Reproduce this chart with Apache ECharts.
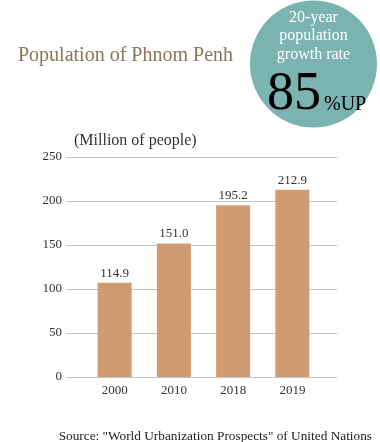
<!DOCTYPE html>
<html><head><meta charset="utf-8">
<script src="https://cdn.jsdelivr.net/npm/echarts@6/dist/echarts.min.js"></script>
<style>html,body{margin:0;padding:0;background:#fff}#c{width:380px;height:442px}</style>
</head><body><div id="c"></div>
<script>
var categories = ['2000', '2010', '2018', '2019'];
var barValues = [107, 151.8, 195.2, 212.9];
var valueLabels = ['114.9', '151.0', '195.2', '212.9'];
var yTicks = { min: 0, max: 250, interval: 50 };

var SERIF = '"Liberation Serif", "Times New Roman", serif';
var chart = echarts.init(document.getElementById('c'), null, { renderer: 'canvas' });
chart.setOption({
  animation: false,
  backgroundColor: '#fff',
  title: [
    { text: 'Population of Phnom Penh', left: 13, top: 41,
      textStyle: { fontFamily: SERIF, fontSize: 20, fontWeight: 'normal', color: '#8c7457' } },
    { text: 'Source: "World Urbanization Prospects" of United Nations', right: 3, top: 425,
      textStyle: { fontFamily: SERIF, fontSize: 13.3, fontWeight: 'normal', color: '#222' } }
  ],
  grid: [
    { left: 66, right: 43, top: 157, bottom: 65 },
    { left: 85, right: 58, top: 157, bottom: 65 }
  ],
  xAxis: [
    { gridIndex: 0, type: 'category', data: categories, show: false },
    { gridIndex: 1, type: 'category', data: categories,
      axisLine: { show: false }, axisTick: { show: false },
      axisLabel: { margin: 7, fontFamily: SERIF, fontSize: 13, color: '#333' } }
  ],
  yAxis: [
    { gridIndex: 0, type: 'value', min: yTicks.min, max: yTicks.max, interval: yTicks.interval,
      axisLine: { show: false }, axisTick: { show: false },
      axisLabel: { margin: 4, fontFamily: SERIF, fontSize: 13, color: '#333' },
      splitLine: { lineStyle: { color: '#c4c4c4', width: 1 } } },
    { gridIndex: 1, type: 'value', min: yTicks.min, max: yTicks.max, interval: yTicks.interval, show: false,
      splitLine: { show: false } }
  ],
  series: [{
    type: 'bar', xAxisIndex: 1, yAxisIndex: 1, barWidth: 34,
    data: barValues,
    itemStyle: { color: '#d09b70' },
    label: { show: true, position: 'top', distance: 3, fontFamily: SERIF, fontSize: 13, color: '#333',
      formatter: function (p) { return valueLabels[p.dataIndex]; } }
  }],
  graphic: [
    { type: 'text', left: 74, top: 133,
      style: { text: '(Million of people)', font: '16px ' + SERIF, fill: '#333' } },
    { type: 'circle', shape: { cx: 313.5, cy: 64, r: 63.5 }, style: { fill: '#7bb3b1' } },
    { type: 'text', x: 313.5, y: 17.5, style: { text: '20-year', font: '16px ' + SERIF, fill: '#fff', align: 'center', verticalAlign: 'middle' } },
    { type: 'text', x: 313.5, y: 36, style: { text: 'population', font: '16px ' + SERIF, fill: '#fff', align: 'center', verticalAlign: 'middle' } },
    { type: 'text', x: 313.5, y: 54.5, style: { text: 'growth rate', font: '16px ' + SERIF, fill: '#fff', align: 'center', verticalAlign: 'middle' } },
    { type: 'text', x: 321, y: 94.5, style: { text: '85', font: '54px ' + SERIF, fill: '#000', align: 'right', verticalAlign: 'middle' } },
    { type: 'text', x: 324, y: 104.7, style: { text: '%UP', font: '20px ' + SERIF, fill: '#000', align: 'left', verticalAlign: 'middle' } }
  ]
});
</script></body></html>
